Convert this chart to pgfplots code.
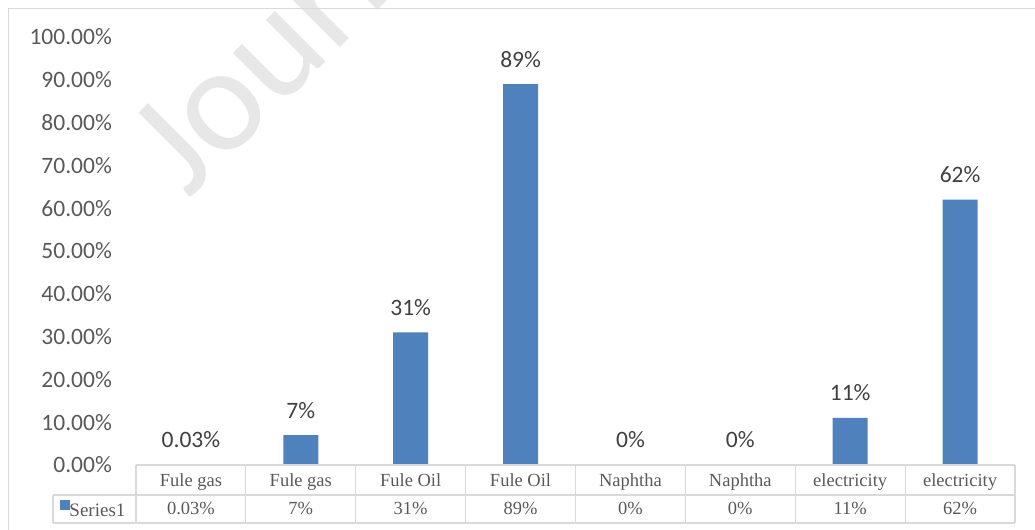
\documentclass[border=0pt]{standalone}
\usepackage{pgfplots}
\pgfplotsset{compat=1.18}
\usepackage{pgfplotstable}
\usepackage{fontspec}
\setmainfont{Carlito}
\newfontfamily\tablefont{Liberation Serif}

\definecolor{barblue}{HTML}{4F81BD}
\definecolor{gridgray}{HTML}{D9D9D9}
\definecolor{ticktext}{HTML}{595959}
\definecolor{labeltext}{HTML}{404040}
\definecolor{wmark}{HTML}{E7E7E7}

% share of each energy carrier, in percent
\pgfplotstableread{
x  y
0  0.03
1  7
2  31
3  89
4  0
5  0
6  11
7  62
}\energydata

\begin{document}
\begin{tikzpicture}[x=1bp,y=1bp]
\path[use as bounding box] (0,0) rectangle (1035,530);
\clip (0,0) rectangle (1035,530);

% watermark
\node[rotate=45, anchor=base west, inner sep=0, text=wmark,
      font=\fontsize{150bp}{150bp}\selectfont] at (188,330) {Journal};

% chart frame
\draw[gridgray, line width=1.5bp] (8.5,0) -- (8.5,521.5) -- (1035,521.5);

\begin{axis}[
  at={(136bp,65bp)}, anchor=south west,
  width=879bp, height=428bp, scale only axis,
  xmin=-0.5, xmax=7.5, ymin=0, ymax=100,
  axis line style={draw=none},
  major tick length=0pt,
  clip=false,
  /pgf/number format/.cd, fixed, precision=2, assume math mode=true, /pgfplots/.cd,
  xtick={0,...,7},
  xticklabels={Fule gas, Fule gas, Fule Oil, Fule Oil, Naphtha, Naphtha, electricity, electricity},
  xticklabel style={anchor=base, inner sep=0pt, yshift=-22bp,
    font=\tablefont\fontsize{18.5bp}{20bp}\selectfont, text=ticktext},
  ytick={0,10,...,100},
  yticklabels={0.00\%,10.00\%,20.00\%,30.00\%,40.00\%,50.00\%,60.00\%,70.00\%,80.00\%,90.00\%,100.00\%},
  yticklabel style={anchor=east, inner sep=0pt, xshift=-24bp,
    font=\fontsize{23.5bp}{26bp}\selectfont, text=ticktext},
  legend style={at={(0,0)}, anchor=west, xshift=-76bp, yshift=-43.8bp,
    draw=none, fill=none, inner sep=0pt, outer sep=0pt,
    nodes={inner sep=0pt},
    font=\tablefont\fontsize{19bp}{20bp}\selectfont, text=ticktext,
    /tikz/every even column/.append style={column sep=3bp}},
  legend image code/.code={\fill[barblue] (0bp,1bp) rectangle (9.5bp,10.5bp);},
]
% bars with value labels above them
\addplot[ybar, bar width=35bp, fill=barblue, draw=none,
  point meta=y,
  nodes near coords={\pgfmathprintnumber{\pgfplotspointmeta}\%},
  every node near coord/.append style={anchor=base, inner sep=0pt, yshift=17bp,
    font=\fontsize{23.5bp}{26bp}\selectfont, text=labeltext}]
  table[x=x, y=y] {\energydata};
\addlegendentry{Series1}

% value row of the data table
\addplot[draw=none, mark=none, forget plot,
  point meta=explicit,
  nodes near coords={\pgfmathprintnumber{\pgfplotspointmeta}\%},
  every node near coord/.append style={anchor=base, inner sep=0pt, yshift=-50bp,
    font=\tablefont\fontsize{18.5bp}{20bp}\selectfont, text=ticktext}]
  table[x=x, y expr=0, meta=y] {\energydata};
\end{axis}

% data table grid
\begin{scope}[gridgray, line width=1.2bp]
  \draw (136,65) -- (1015,65);
  \draw (53,35) -- (1015,35);
  \draw (53,7) -- (1015,7);
  \draw (53,35) -- (53,7);
  \foreach \k in {0,...,8} {
    \draw ({136+\k*109.875},65) -- ({136+\k*109.875},7);
  }
\end{scope}
\end{tikzpicture}
\end{document}
